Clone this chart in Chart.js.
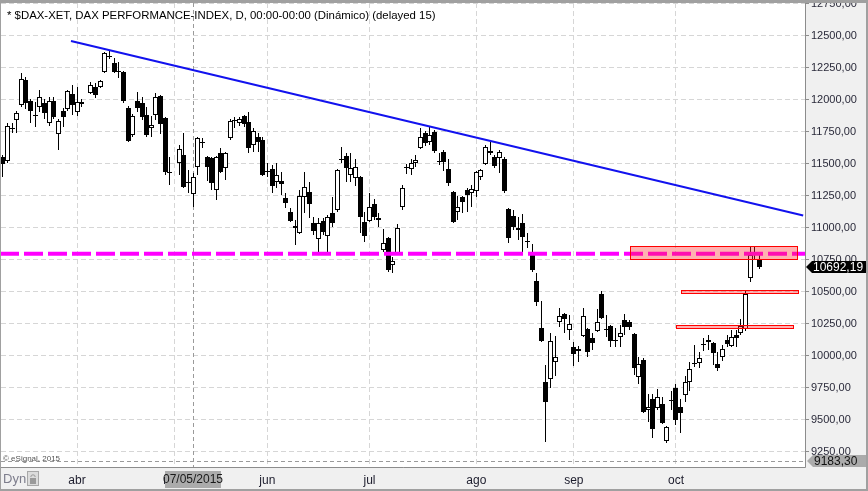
<!DOCTYPE html>
<html><head><meta charset="utf-8">
<script src="https://cdn.jsdelivr.net/npm/chart.js@4.4.0/dist/chart.umd.min.js"></script>
<style>html,body{margin:0;padding:0;background:#f0f0f0;overflow:hidden}#wrap{width:868px;height:491px;position:relative}canvas{display:block}</style>
</head><body><div id="wrap"><canvas id="c" width="868" height="491"></canvas></div>
<script>
// ---- data (daily candles, index = trading-day slot; null = holiday gap) ----
const openP = [11555,11523,11785,11844,11961,12156,11992,11886,11945,11977,11820,11992,11734,11914,11930,12047,11906,11984,null,12055,12102,12102,12219,12340,12289,12227,12219,11937,11727,11992,11977,11883,11781,11883,12031,11859,11440,null,11508,11570,11359,11266,11477,11670,11555,11547,11297,11586,11469,11703,11840,11820,11875,11828,11648,11711,11687,11445,11461,11359,11367,11234,11125,11016,10961,11242,11281,11039,10914,11055,10937,11117,11141,11535,11562,11414,11391,11398,11047,11055,11187,11078,10828,10922,10711,10797,11164,11480,11461,11508,11625,11742,11672,11750,11520,11594,11461,11281,11125,11242,11297,11273,11289,11398,11500,11602,11555,11547,11539,11148,11094,11000,11039,10898,10812,10586,10219,9797,9820,9953,10266,10328,10203,10070,10055,10156,10211,10141,10195,10484,10211,10234,10125,10148,10281,10266,10172,9836,9969,9578,9664,9594,9625,9336,9660,9750,9602,9695,9797,9945,9945,10094,10125,10102,9938,9992,10125,10078,10164,10180,10211,10609,10795,10758];
const highP = [11570,11820,11820,11914,12211,12180,12008,11984,12078,12008,12023,12023,11852,11937,12078,12117,12102,12008,null,12141,12133,12156,12375,12380,12328,12297,12230,11953,11890,12063,12023,11945,11875,12055,12039,11867,11555,null,11648,11742,11453,11430,11711,11703,11562,11555,11562,11625,11594,11852,11867,11867,11883,11906,11781,11742,11711,11508,11492,11508,11437,11273,11156,11063,11297,11437,11359,11086,11078,11078,11102,11242,11461,11633,11586,11586,11539,11405,11125,11273,11227,11117,10992,10930,10773,11031,11336,11500,11539,11570,11781,11758,11797,11766,11586,11609,11539,11289,11250,11250,11312,11336,11445,11461,11648,11672,11570,11609,11555,11156,11141,11086,11109,10961,10875,10648,10430,9930,10180,10156,10375,10336,10320,10109,10078,10375,10219,10180,10367,10508,10320,10242,10219,10242,10328,10281,10180,9992,9984,9703,9703,9742,9680,9453,9727,9781,9664,9844,9953,10086,10031,10141,10164,10109,10031,10086,10164,10203,10203,10289,10508,10852,10859,10797];
const lowP = [11398,11510,11742,11742,11945,11930,11820,11789,11906,11852,11797,11852,11609,11789,11914,11883,11875,11945,null,12047,12016,12094,12211,12320,12211,12172,11980,11672,11711,11906,11844,11711,11711,11844,11734,11414,11336,null,11414,11312,11273,11164,11414,11625,11367,11297,11219,11430,11375,11690,11781,11797,11789,11586,11594,11594,11406,11398,11273,11312,11258,11156,11047,10867,10953,11117,11078,10945,10797,10945,10797,11008,11125,11510,11359,11359,11328,10961,10891,11047,11063,11008,10812,10656,10648,10790,11141,11422,11414,11477,11617,11641,11648,11586,11492,11445,11328,11039,11063,11117,11125,11164,11242,11375,11492,11570,11469,11430,11273,10883,10984,10906,10812,10844,10656,10391,10110,9328,9750,9844,10227,10180,10125,9922,9953,10148,9992,10047,10188,10290,10148,10070,10070,10070,10164,10203,9852,9781,9555,9484,9359,9578,9469,9320,9578,9461,9398,9641,9727,9914,9906,10039,10047,9930,9883,9961,10070,10070,10070,10164,10195,10578,10758,10680];
const closeP = [11500,11797,11778,11898,12164,11977,11914,11880,12023,11898,11992,11867,11836,11867,12070,11961,11984,11969,null,12117,12039,12148,12367,12345,12219,12219,11992,11680,11875,11937,11867,11727,11805,12023,11812,11437,11435,null,11617,11320,11352,11398,11703,11675,11477,11352,11555,11437,11586,11836,11845,11852,11812,11625,11758,11672,11414,11440,11328,11414,11344,11195,11055,11000,11250,11320,11187,10977,11039,10969,11086,11039,11453,11540,11469,11469,11477,11086,10937,11164,11086,11063,10883,10672,10742,11000,11312,11475,11508,11531,11711,11664,11727,11602,11515,11516,11352,11047,11164,11203,11258,11305,11437,11453,11633,11586,11484,11594,11289,10922,11008,10984,10930,10891,10672,10422,10117,9641,10117,9992,10313,10289,10250,10016,10040,10313,10031,10102,10266,10297,10200,10117,10117,10180,10227,10227,9906,9937,9563,9602,9430,9680,9477,9445,9650,9500,9555,9797,9898,9940,9984,10086,10110,10023,9906,10055,10094,10148,10141,10234,10484,10789,10790,10692.19];

// month tick slots and labels (x axis)
const monthTickIdx = [16, 37, 57, 79, 102, 123, 145];
const monthLabels  = ['abr', 'may', 'jun', 'jul', 'ago', 'sep', 'oct'];
// price ticks (y axis)
const priceTicks = [9250,9500,9750,10000,10250,10500,10750,11000,11250,11500,11750,12000,12250,12500,12750];
// drawn studies
const trendLine = [[14.7, 12461], [172.4, 11097]];   // [slot, price]
const supportLevel = 10799;
const zones = [[135.1, 171.1, 10758, 10859], [146.1, 171.3, 10492, 10516], [145.0, 170.2, 10219, 10242]];
// cursor
const cursorIdx = 41, cursorDate = '07/05/2015', cursorPrice = 9183.30;
const titleText = '* $DAX-XET, DAX PERFORMANCE-INDEX, D, 00:00-00:00 (Dinámico) (delayed 15)';

const fmt = v => v.toFixed(2).replace('.', ',');

const bodies = [], wicks = [], bodyColors = [];
openP.forEach((o, i) => {
  if (o === null) return;
  bodies.push({x: i, y: [o, closeP[i]]});
  wicks.push({x: i, y: [lowP[i], highP[i]]});
  bodyColors.push(closeP[i] >= o ? '#ffffff' : '#000000');
});

Chart.defaults.font.family = '"Liberation Sans", Arial, sans-serif';

const decor = {
  id: 'decor',
  beforeDraw(chart) {
    const {ctx, chartArea: a, width, height} = chart;
    ctx.save();
    ctx.fillStyle = '#f0f0f0'; ctx.fillRect(0, 0, width, height);
    ctx.fillStyle = '#ffffff'; ctx.fillRect(a.left, a.top, a.right - a.left, a.bottom - a.top);
    ctx.restore();
  },
  afterDatasetsUpdate(chart) {
    chart.data.datasets.forEach((ds, di) => {
      const meta = chart.getDatasetMeta(di);
      if (meta.type !== 'bar') return;
      meta.data.forEach(el => {
        el.x = Math.floor(el.x) + 0.5;
        let y = Math.round(el.y), b = Math.round(el.base);
        if (Math.abs(y - b) < 1) b = y + 1;
        el.y = y; el.base = b;
      });
    });
  },
  beforeDatasetsDraw(chart) {
    const {ctx, chartArea: a, scales: {x, y}} = chart;
    ctx.save();
    ctx.strokeStyle = '#9a9a9a'; ctx.lineWidth = 1; ctx.setLineDash([4, 3]);
    const cx = Math.round(x.getPixelForValue(cursorIdx)) + 0.5;
    ctx.beginPath(); ctx.moveTo(cx, a.top); ctx.lineTo(cx, a.bottom); ctx.stroke();
    const cy = Math.round(y.getPixelForValue(cursorPrice)) + 0.5;
    ctx.beginPath(); ctx.moveTo(a.left, cy); ctx.lineTo(a.right, cy); ctx.stroke();
    ctx.restore();
  },
  afterDatasetsDraw(chart) {
    const {ctx, chartArea: a, scales: {x, y}} = chart;
    ctx.save();
    zones.forEach(z => {
      const x1 = Math.round(x.getPixelForValue(z[0])) + 0.5, x2 = Math.round(x.getPixelForValue(z[1])) + 0.5;
      const y1 = Math.round(y.getPixelForValue(z[3])) + 0.5, y2 = Math.round(y.getPixelForValue(z[2])) + 0.5;
      ctx.fillStyle = 'rgba(255,40,40,0.36)';
      ctx.fillRect(x1, y1, x2 - x1, y2 - y1);
      ctx.strokeStyle = '#ff0000'; ctx.lineWidth = 1;
      ctx.strokeRect(x1, y1, x2 - x1, y2 - y1);
    });
    ctx.fillStyle = '#000';
    ctx.font = '11.4px "Liberation Sans", Arial, sans-serif';
    ctx.textBaseline = 'alphabetic';
    ctx.fillText(titleText, 7, 19);
    ctx.fillStyle = '#555';
    ctx.font = '8px "Liberation Sans", Arial, sans-serif';
    ctx.fillText('© eSignal, 2015', 3, 461);
    ctx.restore();
  },
  afterDraw(chart) {
    const {ctx, chartArea: a, scales: {x, y}, width, height} = chart;
    ctx.save();
    ctx.strokeStyle = '#8c8c8c'; ctx.lineWidth = 1; ctx.setLineDash([]);
    ctx.beginPath();
    ctx.moveTo(a.right + 0.5, a.top); ctx.lineTo(a.right + 0.5, a.bottom + 0.5);
    ctx.lineTo(a.left, a.bottom + 0.5);
    ctx.stroke();
    ctx.fillStyle = '#a0a0a0';
    ctx.fillRect(0, 0, width, 3);
    ctx.fillRect(0, 0, 1, height);
    ctx.fillRect(width - 2, 0, 2, height);
    ctx.fillRect(0, height - 2, width, 2);
    const tag = (py, text, bg, fg, x0) => {
      const h = 12, yy = Math.round(py);
      ctx.beginPath();
      ctx.moveTo(x0, yy); ctx.lineTo(x0 + 6, yy - h / 2); ctx.lineTo(866, yy - h / 2);
      ctx.lineTo(866, yy + h / 2); ctx.lineTo(x0 + 6, yy + h / 2); ctx.closePath();
      ctx.fillStyle = bg; ctx.fill();
      ctx.fillStyle = fg; ctx.font = '12px "Liberation Sans", Arial, sans-serif';
      ctx.textBaseline = 'middle'; ctx.textAlign = 'left';
      ctx.fillText(text, x0 + 7, yy + 0.5);
    };
    tag(y.getPixelForValue(closeP[closeP.length - 1]), fmt(closeP[closeP.length - 1]), '#000', '#fff', 806);
    tag(y.getPixelForValue(cursorPrice), fmt(cursorPrice), '#ababab', '#111', 807);
    const cx = Math.round(x.getPixelForValue(cursorIdx));
    ctx.fillStyle = '#ababab';
    ctx.fillRect(cx - 28, 471, 56, 17);
    ctx.fillStyle = '#1a1a1a'; ctx.textAlign = 'center'; ctx.textBaseline = 'middle';
    ctx.font = '12px "Liberation Sans", Arial, sans-serif';
    ctx.fillText(cursorDate, cx, 480);
    ctx.textAlign = 'left';
    ctx.fillStyle = '#7d7d8c'; ctx.font = '13px "Liberation Sans", Arial, sans-serif';
    ctx.fillText('Dyn', 3, 479);
    ctx.fillStyle = '#dcdcdc'; ctx.fillRect(27, 471, 12, 15);
    ctx.strokeStyle = '#a8a8a8'; ctx.strokeRect(27.5, 471.5, 11, 14);
    ctx.fillStyle = '#9a9a9a'; ctx.fillRect(30, 478, 6, 6);
    ctx.strokeStyle = '#9a9a9a'; ctx.beginPath(); ctx.arc(33, 477, 2.2, Math.PI, 0); ctx.stroke();
    ctx.restore();
  }
};

new Chart(document.getElementById('c'), {
  type: 'bar',
  data: {
    datasets: [
      { type: 'line', data: trendLine.map(p => ({x: p[0], y: p[1]})), borderColor: '#1212ee', borderWidth: 2, pointRadius: 0, order: -2 },
      { type: 'line', data: [{x: -0.37, y: supportLevel}, {x: 172.79, y: supportLevel}], borderColor: '#ff00ff', borderWidth: 4, borderDash: [19, 5], borderDashOffset: 1, pointRadius: 0, order: -1 },
      { label: 'body', data: bodies, backgroundColor: bodyColors, borderColor: '#000', borderWidth: 1, borderSkipped: false, inflateAmount: 0, barThickness: 5, stack: 'c', order: 0 },
      { label: 'wick', data: wicks, backgroundColor: '#000', borderWidth: 0, inflateAmount: 0, barThickness: 1, stack: 'c', order: 1 }
    ]
  },
  options: {
    responsive: false, animation: false, devicePixelRatio: 1,
    layout: { padding: { top: 3, left: 1, right: 0, bottom: 0 } },
    plugins: { legend: { display: false }, tooltip: { enabled: false } },
    scales: {
      x: {
        type: 'linear', min: -0.37, max: 172.79, offset: false,
        grid: { offset: false, color: '#d6d6d6', drawTicks: false },
        border: { display: false, dash: [5, 3] },
        afterBuildTicks: s => { s.ticks = monthTickIdx.map(v => ({value: v})); },
        afterFit: s => { s.height = 24; s.paddingLeft = 0; s.paddingRight = 0; },
        ticks: { autoSkip: false, maxRotation: 0, padding: 6, color: '#1c1c2c', font: { size: 12 },
          callback: v => monthLabels[monthTickIdx.indexOf(v)] }
      },
      y: {
        position: 'right', min: 9132.8, max: 12757.8, beginAtZero: false, stacked: false,
        grid: { color: '#d6d6d6', tickLength: 4, tickColor: '#8c8c8c' },
        border: { display: false, dash: [5, 3] },
        afterBuildTicks: s => { s.ticks = priceTicks.map(v => ({value: v})); },
        afterFit: s => { s.width = 63; s.paddingTop = 0; s.paddingBottom = 0; },
        ticks: { padding: 2, color: '#2a2a3a', font: { size: 11 }, callback: v => fmt(v) }
      }
    }
  },
  plugins: [decor]
});
</script>
</body></html>
